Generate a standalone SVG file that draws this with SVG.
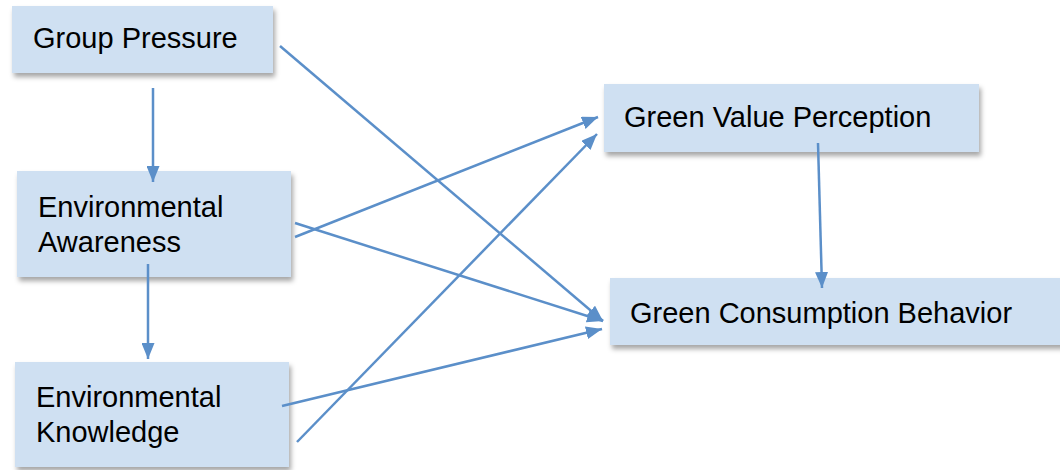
<svg xmlns="http://www.w3.org/2000/svg" width="1060" height="470" viewBox="0 0 1060 470">
  <defs>
    <filter id="shadow" x="-10%" y="-20%" width="130%" height="150%">
      <feDropShadow dx="2" dy="4" stdDeviation="2.5" flood-color="#000" flood-opacity="0.35"/>
    </filter>
    <marker id="arrow" viewBox="0 0 16 13" markerWidth="16" markerHeight="13" refX="16" refY="6.5" orient="auto" markerUnits="userSpaceOnUse">
      <path d="M0,0 L16,6.5 L0,13 z" fill="#5b8fc9"/>
    </marker>
    <style>
      .box { fill: #cfe0f2; filter: url(#shadow); }
      .label { font-family: "Liberation Sans", Arial, sans-serif; font-size: 29px; fill: #000; }
      .edge { stroke: #5b8fc9; stroke-width: 2.5; fill: none; marker-end: url(#arrow); }
    </style>
  </defs>
  <rect width="1060" height="470" fill="#fff"/>

  <g id="group-pressure">
    <rect class="box" x="12" y="6" width="261" height="67"/>
    <text class="label" x="33" y="48">Group Pressure</text>
  </g>

  <g id="environmental-awareness">
    <rect class="box" x="17" y="171" width="274" height="106"/>
    <text class="label" x="38" y="217">Environmental</text>
    <text class="label" x="38" y="252">Awareness</text>
  </g>

  <g id="environmental-knowledge">
    <rect class="box" x="15" y="362" width="274" height="105"/>
    <text class="label" x="36" y="407">Environmental</text>
    <text class="label" x="36" y="442">Knowledge</text>
  </g>

  <g id="green-value-perception">
    <rect class="box" x="604" y="84" width="375" height="68"/>
    <text class="label" x="624" y="127">Green Value Perception</text>
  </g>

  <g id="green-consumption-behavior">
    <rect class="box" x="610" y="278" width="456" height="67"/>
    <text class="label" x="630" y="323">Green Consumption Behavior</text>
  </g>

  <g id="connectors">
    <line class="edge" x1="153" y1="88" x2="153" y2="182"/>
    <line class="edge" x1="148" y1="264" x2="148" y2="359"/>
    <line class="edge" x1="280" y1="46" x2="603" y2="321"/>
    <line class="edge" x1="295" y1="223" x2="603" y2="321"/>
    <line class="edge" x1="295" y1="237" x2="598" y2="117"/>
    <line class="edge" x1="282" y1="406" x2="602" y2="329"/>
    <line class="edge" x1="297" y1="442" x2="597" y2="134"/>
    <line class="edge" x1="818" y1="143" x2="822" y2="288"/>
  </g>
</svg>
